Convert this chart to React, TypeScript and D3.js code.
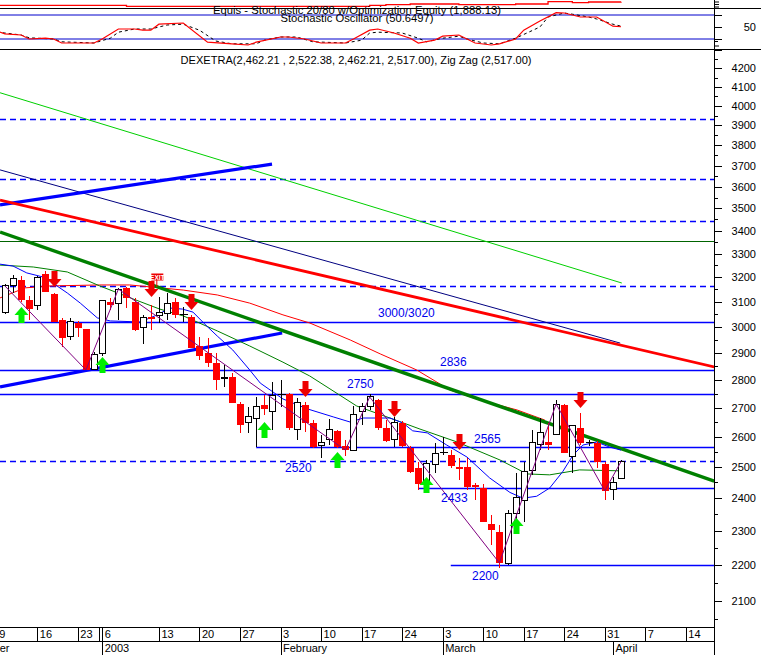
import React from "react";
import * as d3 from "d3";

// ---------- price data (daily candles) ----------
const opens = [3058, 3164, 3189, 3107, 3086, 3213, 3131, 3027, 2964, 3015,
  2992, 2836, 2896, 3099, 3094, 3156, 3099, 2996, 3039, 3043,
  3054, 3099, 3052, 3039, 2926, 2900, 2862, 2803, 2810, 2713,
  2647, 2664, 2710, 2685, 2747, 2749, 2626, 2710, 2647, 2572,
  2589, 2620, 2569, 2555, 2685, 2703, 2727, 2630, 2589, 2647,
  2562, 2496, 2448, 2506, 2550, 2539, 2500, 2500, 2442, 2432,
  2321, 2297, 2203, 2354, 2394, 2487, 2575, 2582, 2609, 2710,
  2535, 2630, 2582, 2579, 2509, 2426, 2462.21];
const highs = [3172, 3209, 3205, 3123, 3205, 3226, 3135, 3035, 3035, 3023,
  2992, 2903, 3107, 3115, 3156, 3160, 3115, 3047, 3086, 3119,
  3135, 3115, 3078, 3047, 2960, 2957, 2900, 2854, 2825, 2720,
  2703, 2738, 2745, 2792, 2799, 2752, 2734, 2720, 2657, 2606,
  2661, 2623, 2589, 2706, 2717, 2749, 2731, 2657, 2668, 2654,
  2569, 2516, 2522, 2579, 2599, 2555, 2529, 2529, 2448, 2445,
  2348, 2318, 2363, 2480, 2516, 2623, 2664, 2647, 2727, 2713,
  2637, 2682, 2589, 2586, 2516, 2467, 2522.38];
const lows = [3051, 3135, 3099, 3027, 3066, 3139, 3019, 2922, 2949, 2960,
  2836, 2836, 2888, 3066, 3027, 3074, 2984, 2934, 2988, 3015,
  3027, 3035, 3019, 2918, 2873, 2847, 2763, 2774, 2717, 2613,
  2613, 2565, 2675, 2623, 2703, 2623, 2589, 2616, 2562, 2529,
  2572, 2562, 2536, 2552, 2640, 2692, 2623, 2582, 2565, 2565,
  2480, 2426, 2436, 2480, 2539, 2496, 2458, 2426, 2394, 2327,
  2258, 2191, 2200, 2327, 2327, 2474, 2555, 2555, 2606, 2545,
  2480, 2572, 2569, 2496, 2394, 2394, 2462.21];
const closes = [3164, 3193, 3107, 3070, 3201, 3139, 3019, 2957, 3019, 2996,
  2836, 2892, 3103, 3086, 3151, 3115, 2988, 3035, 3031, 3058,
  3094, 3047, 3052, 2918, 2888, 2862, 2799, 2810, 2717, 2640,
  2668, 2706, 2696, 2745, 2747, 2630, 2720, 2647, 2565, 2582,
  2626, 2565, 2555, 2675, 2706, 2738, 2630, 2586, 2650, 2569,
  2484, 2445, 2512, 2545, 2550, 2503, 2493, 2436, 2436, 2327,
  2303, 2206, 2354, 2403, 2484, 2582, 2613, 2572, 2713, 2545,
  2637, 2579, 2582, 2516, 2423, 2448, 2517];

// ---------- moving averages: [day index, price] ----------
const maRed = [[-0.6, 3115], [0.9, 3135], [2.5, 3156], [5.6, 3164], [11.7, 3168], [15.4, 3168],
  [17.9, 3160], [22, 3147], [26.2, 3127], [30.2, 3094], [34.3, 3047], [37.6, 3015], [42.6, 2949],
  [46.3, 2896], [50.8, 2836], [54.9, 2763], [58.6, 2727], [63.2, 2692], [66.6, 2657]];
const maGreen = [[-0.6, 3251], [3.5, 3243], [7.7, 3222], [11.7, 3164], [15.8, 3111], [19.1, 3070],
  [22, 3043], [26.2, 2984], [30.2, 2926], [34.3, 2865], [37.6, 2814], [40.1, 2767], [43.4, 2706],
  [47.5, 2664], [51.2, 2626], [55.8, 2582], [61.1, 2522], [64.4, 2477], [67.2, 2474], [70.9, 2490],
  [75.9, 2487]];
const maBlue = [[-0.6, 3255], [1, 3247], [2.7, 3218], [4.7, 3201], [5.9, 3176], [7.7, 3135],
  [9.3, 3094], [11.4, 3035], [13, 3023], [16.7, 3019], [18.5, 3043], [20.4, 3074], [21.9, 3070],
  [23.2, 3058], [24.9, 3003], [26.2, 2964], [28.1, 2911], [30.2, 2836], [31.5, 2788], [34.3, 2731],
  [37.3, 2696], [40.5, 2668], [42.6, 2650], [44.2, 2664], [47.5, 2664], [49.1, 2647], [50.3, 2620],
  [52.1, 2613], [54.5, 2572], [57, 2532], [59.8, 2464], [62.3, 2418], [63.9, 2400], [65.6, 2406],
  [67.2, 2432], [68.8, 2484], [70.1, 2539], [71.3, 2572], [73, 2582], [74.6, 2565], [76, 2555]];
const longGreen = [[-0.6, 4069], [76.1, 3176]];
const longNavy = [[-0.6, 3680], [75.9, 2937]];

// ---------- zig zag pivots (day indices, on closes) ----------
const zigzagPivots = [0, 10, 14, 42, 45, 61, 68, 74, 76];

// ---------- trend lines [day index, price] ----------
const trendGreen = [[-0.6, 3394], [87.5, 2454]];
const trendRed = [[-0.6, 3538], [87.5, 2847]];
const trendBlueUpper = [[-0.6, 3516], [32.95, 3708]];
const trendBlueLower = [[-0.6, 2774], [34.2, 2976]];

// ---------- horizontal levels ----------
const levelPrices = [3932, 3637, 3443, 3355, 3164, 3020, 2836, 2750, 2565, 2520, 2433, 2200];
const levelDashed = [true, true, true, false, true, false, false, false, false, true, false, false];
const levelStart = [-1, -1, -1, -1, -1, -1, -1, -1, 31, -1, 51, 55];
const levelLabels = ["", "", "", "", "", "3000/3020", "2836", "2750", "2565", "2520", "2433", "2200"];

// ---------- signals ----------
const buyIdx = [2, 12, 32, 41, 52, 63];
const buyPrice = [3078, 2884, 2650, 2549, 2467, 2339];
const sellIdx = [6, 18, 23, 37, 48, 56, 71];
const sellPrice = [3160, 3119, 3066, 2738, 2668, 2555, 2699];
const exitIdx = 18;
const exitPrice = 3201;

// ---------- stochastic panel ----------
const stochK = [[-1, 40], [0, 33], [2, 30], [3, 20], [5, 22], [6, 20], [7, 10], [11, 10], [12, 20],
  [14, 45], [16, 45], [17, 42], [18, 42], [19, 57], [22, 60], [25, 12], [28, 8], [30, 5], [31, 12],
  [34, 25], [35, 25], [37, 20], [39, 10], [42, 10], [43, 20], [45, 42], [46, 45], [48, 35], [50, 22],
  [51, 10], [53, 17], [54, 27], [56, 30], [58, 10], [60, 5], [61, 8], [63, 20], [64, 42], [66, 65],
  [68, 86], [69, 85], [70, 80], [71, 75], [73, 75], [75, 52], [76, 50.65]];
const stochD = [[-1, 37], [0, 35], [2, 30], [3, 23], [6, 20], [7, 13], [11, 10], [13, 22], [14, 37],
  [16, 45], [18, 45], [20, 55], [22, 57], [24, 42], [26, 15], [28, 8], [31, 8], [32, 17], [34, 25],
  [36, 25], [38, 13], [42, 10], [44, 17], [45, 35], [46, 37], [49, 35], [51, 22], [52, 13], [54, 22],
  [56, 27], [57, 20], [59, 10], [61, 8], [63, 22], [66, 50], [67, 75], [69, 85], [70, 82], [72, 75],
  [73, 70], [75, 57], [76, 52]];
const equity = [[-1, 1742], [15, 1700], [45, 1742], [47, 1770], [50, 1796], [56, 1767], [63, 1796],
  [67, 1892], [70, 1850], [72, 1880], [76, 1888.13]];

// ---------- axis labels ----------
const dayLabels = ["9", "16", "23", "", "6", "13", "20", "27", "3", "10", "17", "24", "3", "10", "17", "24", "31", "7", "14"];
const dayIdx = [-1, 4, 9, 11.6, 12, 19, 24, 29, 34, 39, 44, 49, 54, 59, 64, 69, 74, 79, 84];
const monthLabels = ["December", "2003", "February", "March", "April"];
const monthIdx = [-6, 12, 34, 54, 75];
const priceTicks = d3.range(2100, 4201, 100);

const FONT = "Arial, 'Liberation Sans', sans-serif";

export default function App() {
  const x = d3.scaleLinear().domain([0, 76]).range([4.9, 621]);
  const y = d3.scaleLog().domain([2200, 4200]).range([565, 68.4]);
  const ys = d3.scaleLinear().domain([20, 80]).range([39, 15]);
  const ye = d3.scaleLinear().domain([1650, 1900]).range([7.5, 1.5]);
  const R = 714, T = 50, B = 627;

  const pl = d3.line<number[]>().x((d) => x(d[0])).y((d) => y(d[1]));
  const sl = d3.line<number[]>().x((d) => x(d[0])).y((d) => ys(d[1]));
  const el = d3.line<number[]>().x((d) => x(d[0])).y((d) => ye(d[1])).curve(d3.curveStepAfter);

  const zz = zigzagPivots.map((i) => [i, closes[i]]);

  const downArrow = (cx: number, tip: number) =>
    `M${cx},${tip} L${cx - 7},${tip - 8} L${cx - 3},${tip - 8} L${cx - 3},${tip - 16} L${cx + 3},${tip - 16} L${cx + 3},${tip - 8} L${cx + 7},${tip - 8} Z`;
  const upArrow = (cx: number, tip: number) =>
    `M${cx},${tip} L${cx - 7},${tip + 8} L${cx - 3},${tip + 8} L${cx - 3},${tip + 16} L${cx + 3},${tip + 16} L${cx + 3},${tip + 8} L${cx + 7},${tip + 8} Z`;

  const minor = d3.range(2050, 4351, 50);

  return (
    <svg width={761} height={655} style={{ position: "absolute", left: 0, top: 0, background: "#fff" }}
      fontFamily={FONT}>
      <defs>
        <clipPath id="mainClip"><rect x={0} y={T} width={R} height={B - T} /></clipPath>
        <clipPath id="topClip"><rect x={0} y={0} width={R} height={49} /></clipPath>
      </defs>
      <rect x={0} y={0} width={761} height={655} fill="#fff" />

      {/* ---------- top stochastic panel ---------- */}
      <g clipPath="url(#topClip)">
        <path d={el(equity) || ""} fill="none" stroke="#ff0000" strokeWidth={1.3} />
        <line x1={0} x2={R} y1={ys(80)} y2={ys(80)} stroke="#0000cc" strokeWidth={1} />
        <line x1={0} x2={R} y1={ys(20)} y2={ys(20)} stroke="#0000cc" strokeWidth={1} />
        <path d={sl(stochD) || ""} fill="none" stroke="#000" strokeWidth={1} strokeDasharray="3,3" />
        <path d={sl(stochK) || ""} fill="none" stroke="#ff0000" strokeWidth={1.2} />
      </g>
      <line x1={0} x2={761} y1={8.5} y2={8.5} stroke="#000" strokeWidth={1} />
      <line x1={0} x2={761} y1={49.5} y2={49.5} stroke="#000" strokeWidth={1} />
      <text x={357} y={13.5} textAnchor="middle" fontSize={11} textLength={288} lengthAdjust="spacingAndGlyphs">
        Equis - Stochastic 20/80  w/Optimization Equity (1,888.13)
      </text>
      <text x={357} y={21.5} textAnchor="middle" fontSize={11} textLength={153} lengthAdjust="spacingAndGlyphs">
        Stochastic Oscillator (50.6497)
      </text>
      {[2, 4.5, 7, 46].map((v, k) => (
        <line key={"tt" + k} x1={R} x2={R + 5} y1={v} y2={v} stroke="#000" />
      ))}
      {[80, 50, 20].map((v) => (
        <line key={"ts" + v} x1={R} x2={R + 8} y1={ys(v) + 0.5} y2={ys(v) + 0.5} stroke="#000" />
      ))}
      <text x={756} y={ys(50) + 4} textAnchor="end" fontSize={11}>50</text>

      {/* ---------- main price panel ---------- */}
      <text x={356} y={64} textAnchor="middle" fontSize={11} textLength={351} lengthAdjust="spacingAndGlyphs">
        DEXETRA(2,462.21 , 2,522.38, 2,462.21, 2,517.00), Zig Zag (2,517.00)
      </text>
      <g clipPath="url(#mainClip)">
        {/* horizontal levels */}
        {levelPrices.map((p, k) => (
          <line key={"lv" + k} x1={levelStart[k] < 0 ? 0 : x(levelStart[k])} x2={R}
            y1={Math.round(y(p)) + 0.5} y2={Math.round(y(p)) + 0.5}
            stroke={k === 3 ? "#006400" : "#0000ff"} strokeWidth={k === 3 ? 1 : 1.6}
            strokeDasharray={levelDashed[k] ? "6,4" : undefined} />
        ))}
        {/* long lines */}
        <path d={pl(longGreen) || ""} fill="none" stroke="#00d000" strokeWidth={1} />
        <path d={pl(longNavy) || ""} fill="none" stroke="#000080" strokeWidth={1} />
        {/* thick trend lines */}
        <path d={pl(trendBlueUpper) || ""} fill="none" stroke="#0000ff" strokeWidth={3.2} />
        <path d={pl(trendBlueLower) || ""} fill="none" stroke="#0000ff" strokeWidth={3.2} />
        <path d={pl(trendRed) || ""} fill="none" stroke="#ff0000" strokeWidth={2.8} />
        <path d={pl(maRed) || ""} fill="none" stroke="#ff0000" strokeWidth={1} />
        <path d={pl(trendGreen) || ""} fill="none" stroke="#008000" strokeWidth={3.4} />
        {/* moving averages */}
        <path d={pl(maGreen) || ""} fill="none" stroke="#008000" strokeWidth={1} />
        <path d={pl(maBlue) || ""} fill="none" stroke="#0000ff" strokeWidth={1} />
        {/* candles */}
        {opens.map((o, i) => {
          const c = closes[i];
          const cx = Math.round(x(i)) + 0.5;
          const up = c > o;
          const doji = Math.abs(c - o) < 0.5;
          const col = doji ? "#000" : up ? "#000" : "#ff0000";
          const top = y(Math.max(o, c));
          const bot = y(Math.min(o, c));
          return (
            <g key={"c" + i} shapeRendering="crispEdges">
              <line x1={cx} x2={cx} y1={y(highs[i])} y2={y(lows[i])} stroke={col} strokeWidth={1} />
              {doji ? (
                <line x1={cx - 4} x2={cx + 4} y1={Math.round(top) + 0.5} y2={Math.round(top) + 0.5} stroke="#000" strokeWidth={1.5} />
              ) : up ? (
                <rect x={cx - 3} y={top} width={6} height={Math.max(1, bot - top)} fill="#fff" stroke="#000" strokeWidth={1} />
              ) : (
                <rect x={cx - 3.5} y={top} width={7} height={Math.max(1.5, bot - top)} fill="#ff0000" />
              )}
            </g>
          );
        })}
        {/* zig zag */}
        <path d={pl(zz) || ""} fill="none" stroke="#800080" strokeWidth={1} />
        {/* signals */}
        {buyIdx.map((i, k) => (
          <path key={"b" + k} d={upArrow(Math.round(x(i)) + 0.5, y(buyPrice[k]))} fill="#00ee00" />
        ))}
        {sellIdx.map((i, k) => (
          <path key={"s" + k} d={downArrow(Math.round(x(i)) + 0.5, y(sellPrice[k]))} fill="#ee0000" />
        ))}
        <g>
          <line x1={x(exitIdx) + 6} x2={x(exitIdx) + 6} y1={y(exitPrice)} y2={y(exitPrice) + 10} stroke="#ee0000" />
          <rect x={x(exitIdx) + 0.5} y={y(exitPrice) - 3.5} width={12} height={7} fill="#ee0000" />
          <text x={x(exitIdx) + 6.5} y={y(exitPrice) + 2.5} textAnchor="middle" fontSize={6.5} fill="#fff"
            fontWeight="bold">EXIT</text>
        </g>
        {/* level labels */}
        {levelLabels.map((t, k) => {
          if (!t) return null;
          const pos: Record<string, [number, number]> = {
            "3000/3020": [378, -5], "2836": [440, -4], "2750": [347, -6], "2565": [474, -4],
            "2520": [285, 11], "2433": [441, 14], "2200": [472, 15],
          };
          const [tx, dy] = pos[t];
          return (
            <text key={"ll" + k} x={tx} y={Math.round(y(levelPrices[k])) + dy} fontSize={12} fill="#0000ee">{t}</text>
          );
        })}
      </g>

      {/* ---------- right axis ---------- */}
      <line x1={R + 0.5} x2={R + 0.5} y1={0} y2={655} stroke="#000" />
      {minor.map((p) => (
        <line key={"mt" + p} x1={R} x2={R + (p % 100 === 0 ? 8 : 4)} y1={Math.round(y(p)) + 0.5} y2={Math.round(y(p)) + 0.5}
          stroke="#000" />
      ))}
      {priceTicks.map((p) => (
        <text key={"pt" + p} x={756} y={y(p) + 4} textAnchor="end" fontSize={11}>{p}</text>
      ))}

      {/* ---------- bottom axis ---------- */}
      <rect x={0} y={B} width={R} height={655 - B} fill="#fff" />
      <line x1={0} x2={R} y1={B + 0.5} y2={B + 0.5} stroke="#000" />
      <line x1={0} x2={R} y1={641.5} y2={641.5} stroke="#000" />
      {dayIdx.map((i, k) => (
        <g key={"d" + k}>
          <line x1={Math.round(x(i)) + 0.5} x2={Math.round(x(i)) + 0.5} y1={B} y2={641} stroke="#000" />
          <text x={x(i) + 2.5} y={638} fontSize={11}>{dayLabels[k]}</text>
        </g>
      ))}
      {monthIdx.map((i, k) => (
        <g key={"m" + k}>
          <line x1={Math.round(x(i)) + 0.5} x2={Math.round(x(i)) + 0.5} y1={641} y2={655} stroke="#000" />
          <text x={x(i) + 2.5} y={652} fontSize={11}>{monthLabels[k]}</text>
        </g>
      ))}
    </svg>
  );
}
